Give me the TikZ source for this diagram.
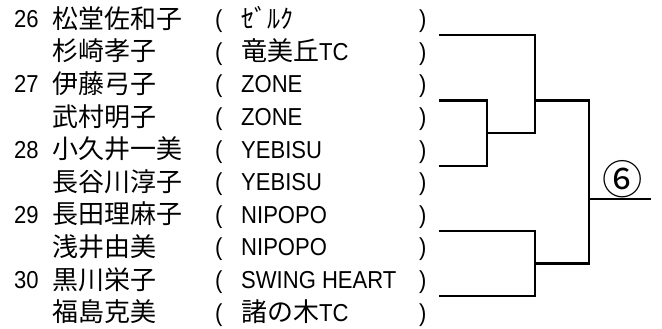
\documentclass[tikz,border=0pt]{standalone}
\usepackage{fontspec}
\setmainfont{Liberation Sans}[FakeStretch=0.9]
\newfontfamily\jp[Scale=1.06]{Noto Sans CJK JP}
\usetikzlibrary{positioning}

\tikzset{
	txt/.style={anchor=base west, inner sep=0pt, font=\fontsize{24.5}{24}\selectfont},
	jtxt/.style={txt, font=\fontsize{24.5}{24}\selectfont\jp},
	bline/.style={line width=2.4pt}
}

\begin{document}
\begin{tikzpicture}[x=1pt,y=-1pt]
		\useasboundingbox (0,0) rectangle (662,329);
		
		% numbers
		\node[txt] (no26) at (14,27.7) {26};
		\node[txt] (no27) at (14,92.9) {27};
		\node[txt] (no28) at (14,158.1) {28};
		\node[txt] (no29) at (14,223.3) {29};
		\node[txt] (no30) at (14,288.5) {30};
		
		% players
		\node[jtxt] (pl1) at (52,28.2) {松堂佐和子};
		\node[jtxt] (pl2) at (52,60.8) {杉崎孝子};
		\node[jtxt] (pl3) at (52,93.4) {伊藤弓子};
		\node[jtxt] (pl4) at (52,126) {武村明子};
		\node[jtxt] (pl5) at (52,158.6) {小久井一美};
		\node[jtxt] (pl6) at (52,191.2) {長谷川淳子};
		\node[jtxt] (pl7) at (52,223.8) {長田理麻子};
		\node[jtxt] (pl8) at (52,256.4) {浅井由美};
		\node[jtxt] (pl9) at (52,289) {黒川栄子};
		\node[jtxt] (pl10) at (52,321.6) {福島克美};
		
		% clubs
		\node[txt] (lp1) at (215,27.7) {(};
		\node[jtxt] (cl1) at (241,28.2) {ｾﾞﾙｸ};
		\node[txt] (rp1) at (419,27.7) {)};
		\node[txt] (lp2) at (215,60.3) {(};
		\node[txt] (cl2) at (241,60.3) {{\jp 竜美丘}TC};
		\node[txt] (rp2) at (419,60.3) {)};
		\node[txt] (lp3) at (215,92.9) {(};
		\node[txt] (cl3) at (241,92.9) {ZONE};
		\node[txt] (rp3) at (419,92.9) {)};
		\node[txt] (lp4) at (215,125.5) {(};
		\node[txt] (cl4) at (241,125.5) {ZONE};
		\node[txt] (rp4) at (419,125.5) {)};
		\node[txt] (lp5) at (215,158.1) {(};
		\node[txt] (cl5) at (241,158.1) {YEBISU};
		\node[txt] (rp5) at (419,158.1) {)};
		\node[txt] (lp6) at (215,190.7) {(};
		\node[txt] (cl6) at (241,190.7) {YEBISU};
		\node[txt] (rp6) at (419,190.7) {)};
		\node[txt] (lp7) at (215,223.3) {(};
		\node[txt] (cl7) at (241,223.3) {NIPOPO};
		\node[txt] (rp7) at (419,223.3) {)};
		\node[txt] (lp8) at (215,255.9) {(};
		\node[txt] (cl8) at (241,255.9) {NIPOPO};
		\node[txt] (rp8) at (419,255.9) {)};
		\node[txt] (lp9) at (215,288.5) {(};
		\node[txt] (cl9) at (241,288.5) {SWING HEART};
		\node[txt] (rp9) at (419,288.5) {)};
		\node[txt] (lp10) at (215,321.1) {(};
		\node[txt] (cl10) at (241,321.1) {{\jp 諸の木}TC};
		\node[txt] (rp10) at (419,321.1) {)};
		
		% bracket
		\coordinate (a1) at (439,35.3);
		\coordinate (a2) at (439,100.5);
		\coordinate (a3) at (439,165.7);
		\coordinate (a4) at (439,230.9);
		\coordinate (a5) at (439,296.1);
		\coordinate (q2) at (487,133.1);
		\coordinate (s1) at (535,100.5);
		\coordinate (s2) at (535,263.5);
		\coordinate (fin) at (589,199);
		\coordinate (win) at (651,199);
		
		\draw[bline] (a1) -| (s1) |- (q2);
		\draw[bline] (a2) -| (q2) |- (a3);
		\draw[bline] (a4) -| (s2) |- (a5);
		\draw[bline] (s1) -| (fin) |- (s2);
		\draw[bline] (fin) -- (win);
		
		\node[inner sep=0pt, font=\fontsize{38}{38}\selectfont\jp] (rnd) at (623,179) {⑥};
	\end{tikzpicture}
\end{document}
